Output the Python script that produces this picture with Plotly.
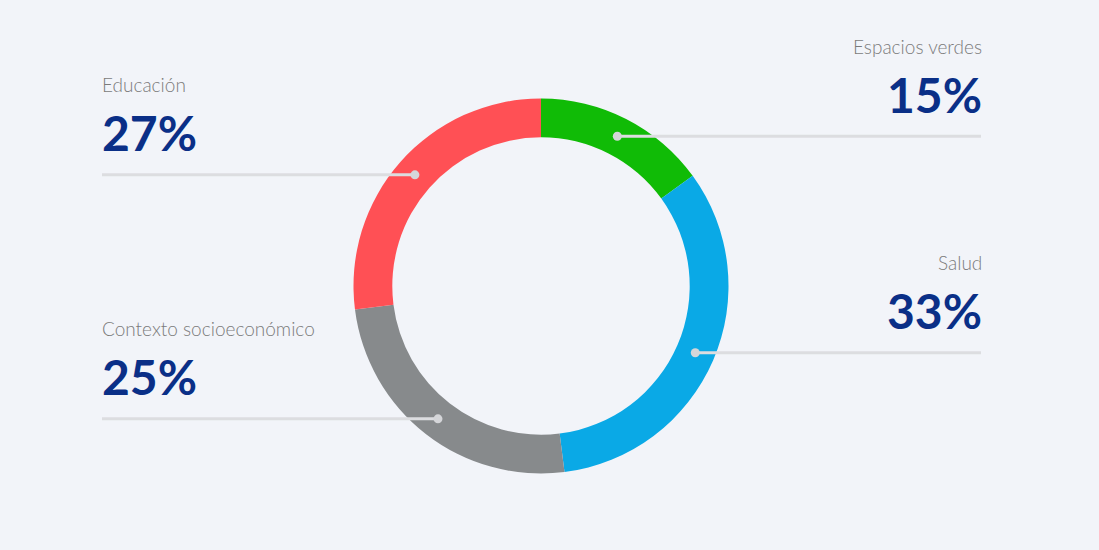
import math
import plotly.graph_objects as go

# ---- data ----
categories = ["Espacios verdes", "Salud", "Contexto socioeconómico", "Educación"]
values = [15, 33, 25, 27]
colors = ["#10bb06", "#0aa9e6", "#878a8c", "#ff5055"]
label_side = ["right", "right", "left", "left"]

# ---- layout geometry (pixels) ----
W, H = 1099, 550
cx, cy = 541, 286
r_out = 187.5
r_in = 148.7
r_mid = (r_out + r_in) / 2
left_x, right_x = 102, 981
bg = "#f2f4f9"

fig = go.Figure()

fig.add_trace(go.Pie(
    labels=categories, values=values, sort=False, direction="clockwise", rotation=0,
    hole=r_in / r_out, marker=dict(colors=colors, line=dict(width=0)),
    textinfo="none", hoverinfo="label+percent", showlegend=False,
    domain=dict(x=[(cx - r_out) / W, (cx + r_out) / W],
                y=[1 - (cy + r_out) / H, 1 - (cy - r_out) / H]),
))

total = sum(values)
cum = 0
annotations = []
shapes = []
for cat, v, side in zip(categories, values, label_side):
    mid = (cum + v / 2) / total * 2 * math.pi
    cum += v
    dx = cx + r_mid * math.sin(mid)
    dy = cy - r_mid * math.cos(mid)
    end_x = right_x if side == "right" else left_x
    shapes.append(dict(
        type="line", xref="x", yref="y", x0=dx, x1=end_x, y0=dy, y1=dy,
        line=dict(color="#dcdde0", width=3), layer="above",
    ))
    shapes.append(dict(
        type="circle", xref="x", yref="y", x0=dx - 4.5, x1=dx + 4.5, y0=dy - 4.5, y1=dy + 4.5,
        fillcolor="#d5d6d9", line=dict(width=0), layer="above",
    ))
    anchor = "right" if side == "right" else "left"
    shift = 3 if side == "right" else -2
    annotations.append(dict(
        x=end_x, y=dy - 90, xref="x", yref="y", text=cat, showarrow=False,
        xanchor=anchor, yanchor="middle", xshift=shift,
        font=dict(family="Lato, 'Open Sans', sans-serif", size=19, color="#7b7b7b", weight=300),
    ))
    annotations.append(dict(
        x=end_x, y=dy - 42, xref="x", yref="y", text=f"{v}%", showarrow=False,
        xanchor=anchor, yanchor="middle", xshift=shift,
        font=dict(family="Lato, 'Open Sans', sans-serif", size=48, color="#0a2f87", weight=700),
    ))

fig.update_layout(
    width=W, height=H, margin=dict(l=0, r=0, t=0, b=0),
    paper_bgcolor=bg, plot_bgcolor=bg,
    xaxis=dict(range=[0, W], visible=False, fixedrange=True),
    yaxis=dict(range=[H, 0], visible=False, fixedrange=True),
    annotations=annotations, shapes=shapes,
)

fig.write_html("out.html")
